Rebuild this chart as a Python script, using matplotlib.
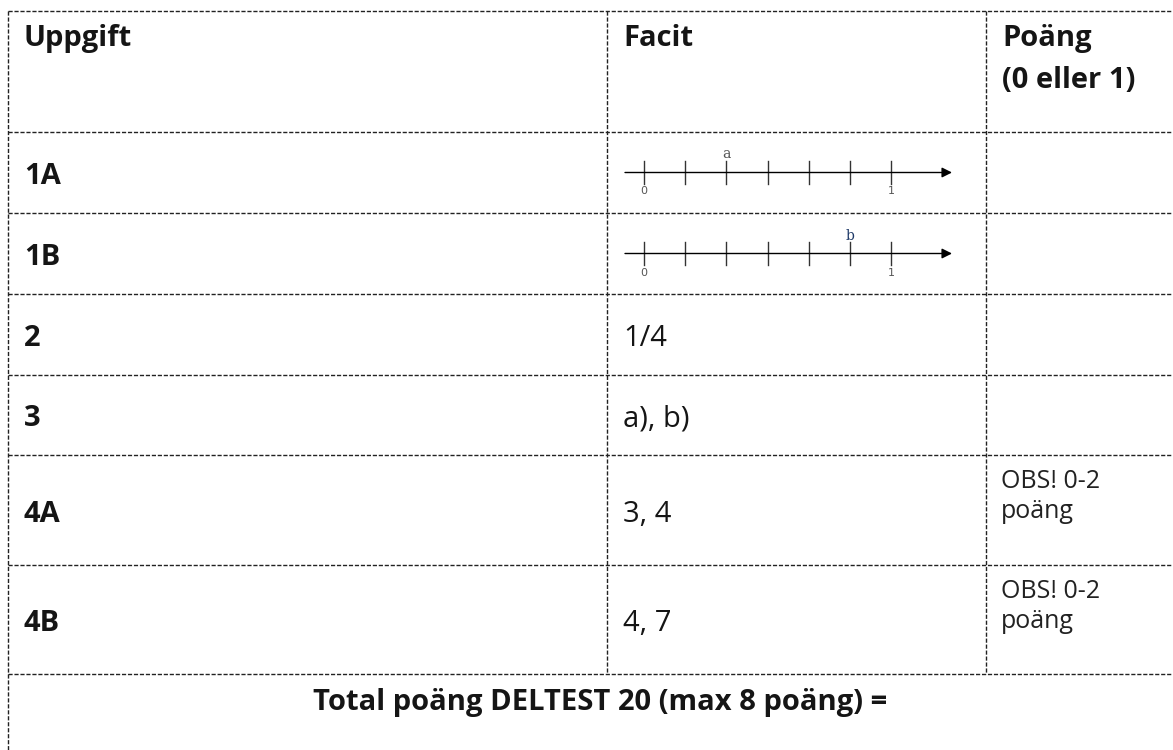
import matplotlib
matplotlib.use('Agg')
import matplotlib.pyplot as plt
import numpy as np

plt.rcParams['font.family'] = ['Open Sans', 'DejaVu Sans']

# table content
headers = ['Uppgift', 'Facit', 'Poäng', '(0 eller 1)']
tasks = ['1A', '1B', '2', '3', '4A', '4B']
answers = ['', '', '1/4', 'a), b)', '3, 4', '4, 7']
notes = ['', '', '', '', 'OBS! 0-2\npoäng', 'OBS! 0-2\npoäng']
total_text = 'Total poäng DELTEST 20 (max 8 poäng) ='

# number line answers (tick positions in sixths, 0 to 1)
line_ticks = [0, 1 / 6, 2 / 6, 3 / 6, 4 / 6, 5 / 6, 1]
line_labels = {0: '0', 1: '1'}
line_marks = {'1A': ('a', 2 / 6), '1B': ('b', 5 / 6)}

W, H = 1173, 750
fig = plt.figure(figsize=(W / 100, H / 100), dpi=100)
ax = fig.add_axes([0, 0, 1, 1])
ax.set_xlim(0, W)
ax.set_ylim(H, 0)
ax.axis('off')

# grid (pixel layout)
row_edges = [11, 132, 213, 294, 375, 455, 565, 674]
col_left, col_1, col_2 = 8, 607, 986
dash = dict(color='#222222', lw=1.0, linestyle=(0, (3, 1.3)))
for y in row_edges:
    ax.plot([col_left, W], [y, y], **dash)
ax.plot([col_left, col_left], [row_edges[0], H], **dash)
for x in (col_1, col_2):
    ax.plot([x, x], [row_edges[0], row_edges[-1]], **dash)

FS = 21
FS_REG = 21
FS_SMALL = 18
pad = 16
txt_col = '#151515'

# header
ax.text(col_left + pad, 46, headers[0], fontsize=FS, fontweight='bold', color=txt_col)
ax.text(col_1 + pad, 46, headers[1], fontsize=FS, fontweight='bold', color=txt_col)
ax.text(col_2 + pad, 46, headers[2], fontsize=FS, fontweight='bold', color=txt_col)
ax.text(col_2 + pad, 88, headers[3], fontsize=FS, fontweight='bold', color=txt_col)

# rows
for i, task in enumerate(tasks):
    top, bot = row_edges[i + 1], row_edges[i + 2]
    base = (top + bot) / 2 + 11.5
    ax.text(col_left + pad, base, task, fontsize=FS, fontweight='bold', color=txt_col)
    if answers[i]:
        ax.text(col_1 + pad, base, answers[i], fontsize=FS_REG, color=txt_col)
    if notes[i]:
        for k, part in enumerate(notes[i].split('\n')):
            ax.text(col_2 + 15, top + 33 + 30 * k, part, fontsize=FS_SMALL, color='#222222')

    if task in line_marks:
        letter, pos = line_marks[task]
        cy = (top + bot) / 2
        # inset axes for the number line, placed in the facit cell
        x0, x1 = 625, 952
        y0, y1 = cy - 28, cy + 28
        nax = fig.add_axes([x0 / W, 1 - y1 / H, (x1 - x0) / W, (y1 - y0) / H])
        nax.set_xlim(-0.077, 1.245)
        nax.set_ylim(-28, 28)
        nax.axis('off')
        nax.annotate('', xy=(1.245, 0), xytext=(-0.077, 0),
                     arrowprops=dict(arrowstyle='-|>', color='black', lw=1.0,
                                     mutation_scale=15, shrinkA=0, shrinkB=0))
        for t in line_ticks:
            nax.plot([t, t], [-11.5, 11.5], color='#333333', lw=1.0)
        for t, lab in line_labels.items():
            nax.text(t, -19, lab, fontsize=8, color='#555555', ha='center', va='center',
                     family='DejaVu Sans')
        col = '#555555' if letter == 'a' else '#1f3a68'
        nax.text(pos, 18, letter, fontsize=10, color=col, ha='center', va='center',
                 family='DejaVu Serif')

# total row
ax.text(600, 710, total_text, fontsize=FS, fontweight='bold', color=txt_col, ha='center')

plt.savefig('out.png', dpi=100)
